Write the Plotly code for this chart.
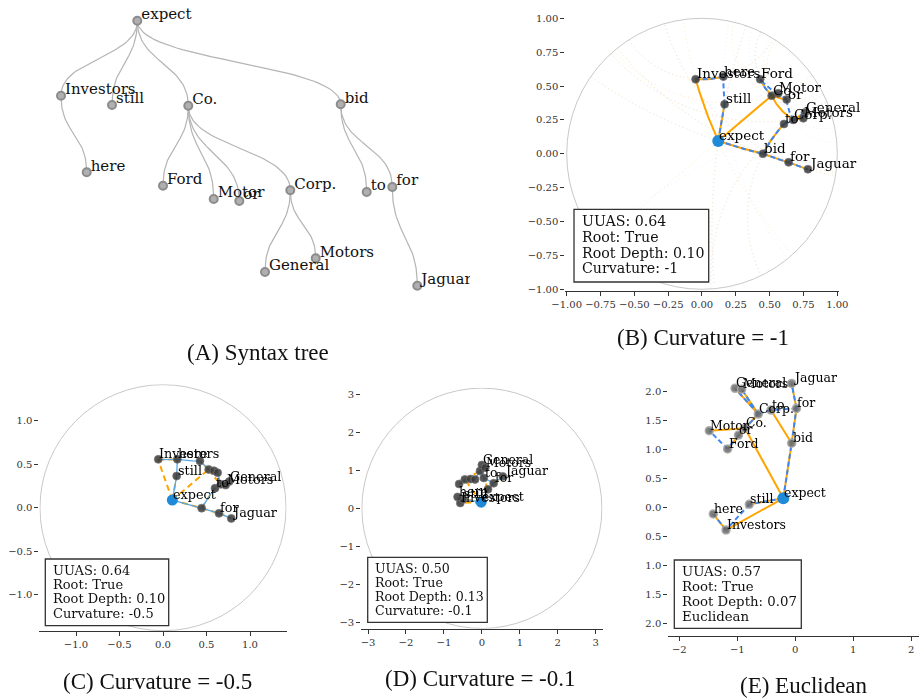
import numpy as np
import plotly.graph_objects as go

W, H = 920, 698

# ---------------- data ----------------
WORDS = ["expect", "Investors", "still", "here", "Co.", "Ford", "Motor", "or",
         "Corp.", "General", "Motors", "bid", "to", "for", "Jaguar"]

# (A) syntax-tree layout positions (layout units, y downward)
A_X = [137.3, 61.0, 112.0, 86.7, 188.3, 163.0, 213.7, 239.3, 290.3, 265.0, 315.7, 340.7, 366.7, 392.3, 417.3]
A_Y = [20.7, 95.7, 105.0, 172.3, 105.7, 185.7, 199.0, 201.0, 190.3, 272.0, 258.3, 104.3, 192.0, 187.0, 285.7]

# (B) curvature -1 embedding
B_X = [0.120, -0.047, 0.167, 0.158, 0.515, 0.430, 0.564, 0.626, 0.675, 0.761, 0.749, 0.450, 0.606, 0.640, 0.783]
B_Y = [0.095, 0.550, 0.365, 0.570, 0.429, 0.550, 0.446, 0.400, 0.250, 0.304, 0.262, 0.000, 0.220, -0.063, -0.114]

# (C) curvature -0.5 embedding
C_X = [0.107, -0.054, 0.157, 0.165, 0.525, 0.425, 0.586, 0.628, 0.665, 0.760, 0.720, 0.444, 0.598, 0.644, 0.785]
C_Y = [0.088, 0.556, 0.364, 0.556, 0.440, 0.536, 0.425, 0.402, 0.270, 0.300, 0.260, -0.005, 0.224, -0.065, -0.123]

# (D) curvature -0.1 embedding
D_X = [-0.02, -0.57, -0.50, -0.64, -0.45, -0.60, -0.30, -0.18, -0.05, 0.00, 0.09, 0.16, 0.05, 0.31, 0.55]
D_Y = [0.16, 0.14, 0.24, 0.30, 0.76, 0.64, 0.77, 0.76, 0.98, 1.14, 1.07, 0.50, 0.80, 0.66, 0.84]

# (E) Euclidean embedding
E_X = [-0.207, -1.195, -0.793, -1.414, -0.868, -1.167, -1.483, -0.980, -0.638, -1.040, -0.925, -0.063, -0.420, 0.020, -0.063]
E_Y = [0.150, -0.397, 0.046, -0.120, 1.356, 1.000, 1.316, 1.240, 1.603, 2.046, 2.030, 1.100, 1.672, 1.700, 2.130]

GOLD = [("expect", "Investors"), ("expect", "still"), ("expect", "Co."), ("expect", "bid"),
        ("Investors", "here"), ("Co.", "Ford"), ("Co.", "Motor"), ("Co.", "or"), ("Co.", "Corp."),
        ("Corp.", "General"), ("Corp.", "Motors"), ("bid", "to"), ("bid", "for"), ("for", "Jaguar")]

PRED_B = [("expect", "still"), ("still", "here"), ("here", "Investors"), ("expect", "bid"),
          ("bid", "for"), ("for", "Jaguar"), ("bid", "to"), ("to", "Corp."), ("Corp.", "Motors"),
          ("Corp.", "General"), ("Corp.", "or"), ("or", "Motor"), ("Motor", "Ford"), ("Ford", "Co.")]
PRED_C = [("expect", "still"), ("still", "here"), ("here", "Investors"), ("here", "Ford"),
          ("Ford", "Co."), ("Co.", "Motor"), ("Motor", "or"), ("or", "Corp."), ("Corp.", "Motors"),
          ("Motors", "General"), ("expect", "bid"), ("bid", "to"), ("bid", "for"), ("for", "Jaguar")]
PRED_D = [("expect", "still"), ("still", "Investors"), ("Investors", "here"), ("expect", "bid"),
          ("bid", "for"), ("for", "Jaguar"), ("for", "to"), ("to", "Corp."), ("Corp.", "Motors"),
          ("Motors", "General"), ("Corp.", "or"), ("or", "Motor"), ("Motor", "Ford"), ("Ford", "Co.")]
PRED_E = [("expect", "still"), ("still", "Investors"), ("Investors", "here"), ("expect", "bid"),
          ("bid", "for"), ("for", "Jaguar"), ("for", "to"), ("to", "Corp."), ("Corp.", "General"),
          ("Corp.", "Motors"), ("Corp.", "Co."), ("Co.", "or"), ("or", "Ford"), ("Ford", "Motor")]

LABELS_C = ["Investors", "here", "still", "expect", "to", "General", "Motors", "for", "Jaguar"]
LABELS_D = ["General", "Motors", "Jaguar", "to", "for", "here", "still", "Investors", "expect"]

CURV_B, CURV_C, CURV_D = -1.0, -0.5, -0.1

INFO_B = ["UUAS: 0.64", "Root: True", "Root Depth: 0.10", "Curvature: -1"]
INFO_C = ["UUAS: 0.64", "Root: True", "Root Depth: 0.10", "Curvature: -0.5"]
INFO_D = ["UUAS: 0.50", "Root: True", "Root Depth: 0.13", "Curvature: -0.1"]
INFO_E = ["UUAS: 0.57", "Root: True", "Root Depth: 0.07", "Euclidean"]

TITLES = ["(A) Syntax tree", "(B) Curvature = -1", "(C) Curvature = -0.5",
          "(D) Curvature = -0.1", "(E) Euclidean"]

ROOT = "expect"

# ---------------- helpers ----------------
ORANGE = "#FFA500"
BLUE_D = "#3F86F0"
BLUE_S = "#55A8E8"
SERIF = "DejaVu Serif"
TITLE_FONT = "Liberation Serif"


def circumcenter(a, b, c):
    ax, ay, bx, by, cx, cy = a.real, a.imag, b.real, b.imag, c.real, c.imag
    d = 2 * (ax * (by - cy) + bx * (cy - ay) + cx * (ay - by))
    ux = ((ax**2 + ay**2) * (by - cy) + (bx**2 + by**2) * (cy - ay) + (cx**2 + cy**2) * (ay - by)) / d
    uy = ((ax**2 + ay**2) * (cx - bx) + (bx**2 + by**2) * (ax - cx) + (cx**2 + cy**2) * (bx - ax)) / d
    return complex(ux, uy)


def geo_circle(p, q, R):
    cross = p.real * q.imag - p.imag * q.real
    if abs(cross) < 1e-6:
        return None
    base = p if abs(p) > abs(q) else q
    inv = R**2 / base.conjugate()
    c = circumcenter(p, q, inv)
    return c, abs(p - c)


def geodesic(p, q, R, n=40):
    p, q = complex(*p), complex(*q)
    gc = geo_circle(p, q, R)
    if gc is None:
        t = np.linspace(0, 1, 2)
        z = p + (q - p) * t
        return z.real, z.imag
    c, r = gc
    a1, a2 = np.angle(p - c), np.angle(q - c)
    d = (a2 - a1 + np.pi) % (2 * np.pi) - np.pi
    best = None
    for dd in (d, d - np.sign(d) * 2 * np.pi):
        th = a1 + np.linspace(0, dd, n)
        z = c + r * np.exp(1j * th)
        m = abs(z[n // 2])
        if best is None or m < best[0]:
            best = (m, z)
    z = best[1]
    return z.real, z.imag


def full_geodesic(p, q, R):
    p, q = complex(*p), complex(*q)
    gc = geo_circle(p, q, R)
    if gc is None:
        u = (q - p) / abs(q - p)
        z = np.array([-R * u, R * u])
        return z.real, z.imag
    c, r = gc
    th = np.linspace(0, 2 * np.pi, 721)
    z = c + r * np.exp(1j * th)
    inside = np.abs(z) < R
    k = int(np.argmin(inside))
    z = np.roll(z, -k)
    inside = np.roll(inside, -k)
    z = z[inside]
    return z.real, z.imag


def edge_xy(pos, edges, R=None, full=False):
    xs, ys = [], []
    for a, b in edges:
        p, q = pos[a], pos[b]
        if R is None:
            ex, ey = [p[0], q[0]], [p[1], q[1]]
        elif full:
            ex, ey = full_geodesic(p, q, R)
        else:
            ex, ey = geodesic(p, q, R)
        xs += list(ex) + [None]
        ys += list(ey) + [None]
    return xs, ys


def dom(cx, cy, sx, sy, xr, yr):
    x0, x1 = cx + xr[0] * sx, cx + xr[1] * sx
    ytop, ybot = cy - yr[1] * sy, cy - yr[0] * sy
    return [x0 / W, x1 / W], [1 - ybot / H, 1 - ytop / H]


fig = go.Figure()
annotations = []
shapes = []

# ---------------- (A) syntax tree ----------------
posA = {w: (x, y) for w, x, y in zip(WORDS, A_X, A_Y)}
lx, ly = [], []
for a, b in GOLD:
    (sx_, sy_), (tx_, ty_) = posA[a], posA[b]
    ym = (sy_ + ty_) / 2
    t = np.linspace(0, 1, 40)
    P = np.array([[sx_, sy_], [sx_, ym], [tx_, ym], [tx_, ty_]])
    bx = ((1 - t)**3) * P[0, 0] + 3 * ((1 - t)**2) * t * P[1, 0] + 3 * (1 - t) * t**2 * P[2, 0] + t**3 * P[3, 0]
    by = ((1 - t)**3) * P[0, 1] + 3 * ((1 - t)**2) * t * P[1, 1] + 3 * (1 - t) * t**2 * P[2, 1] + t**3 * P[3, 1]
    lx += list(bx) + [None]
    ly += list(by) + [None]
fig.add_trace(go.Scatter(x=lx, y=ly, mode="lines", line=dict(color="#b4b4b4", width=1.2),
                         xaxis="x", yaxis="y", hoverinfo="skip"))
fig.add_trace(go.Scatter(x=A_X, y=A_Y, mode="markers",
                         marker=dict(size=8, color="#b0b0b0", line=dict(color="#8c8c8c", width=2)),
                         xaxis="x", yaxis="y", cliponaxis=False, hoverinfo="skip"))
fig.add_trace(go.Scatter(x=[x + 4 for x in A_X], y=[y - 5.5 for y in A_Y], mode="text", text=WORDS,
                         textposition="middle right", textfont=dict(family=SERIF, size=15, color="#111"),
                         xaxis="x", yaxis="y", cliponaxis=True, hoverinfo="skip"))

# ---------------- embeddings ----------------
panels = [
    dict(n=2, X=B_X, Y=B_Y, pred=PRED_B, R=1 / np.sqrt(-CURV_B), style="B", labels=WORDS,
         fs=13.5, root_size=12),
    dict(n=3, X=C_X, Y=C_Y, pred=PRED_C, R=1 / np.sqrt(-CURV_C), style="C", labels=LABELS_C,
         fs=12.8, root_size=11),
    dict(n=4, X=D_X, Y=D_Y, pred=PRED_D, R=1 / np.sqrt(-CURV_D), style="C", labels=LABELS_D,
         fs=12.5, root_size=11),
    dict(n=5, X=E_X, Y=E_Y, pred=PRED_E, R=None, style="B", labels=WORDS,
         fs=12.5, root_size=12),
]

for pn in panels:
    xa, ya = f"x{pn['n']}", f"y{pn['n']}"
    pos = {w: (x, y) for w, x, y in zip(WORDS, pn["X"], pn["Y"])}
    R = pn["R"]
    if pn["n"] == 2:
        gx, gy = edge_xy(pos, GOLD, R, full=True)
        fig.add_trace(go.Scatter(x=gx, y=gy, mode="lines", opacity=0.22,
                                 line=dict(color=ORANGE, width=1, dash="1px,3px"),
                                 xaxis=xa, yaxis=ya, hoverinfo="skip"))
        gx, gy = edge_xy(pos, pn["pred"], R, full=True)
        fig.add_trace(go.Scatter(x=gx, y=gy, mode="lines", opacity=0.12,
                                 line=dict(color=BLUE_D, width=1, dash="1px,3px"),
                                 xaxis=xa, yaxis=ya, hoverinfo="skip"))
    gx, gy = edge_xy(pos, GOLD, R)
    px_, py_ = edge_xy(pos, pn["pred"], R)
    if pn["style"] == "B":
        fig.add_trace(go.Scatter(x=gx, y=gy, mode="lines", line=dict(color=ORANGE, width=2),
                                 xaxis=xa, yaxis=ya, hoverinfo="skip"))
        fig.add_trace(go.Scatter(x=px_, y=py_, mode="lines",
                                 line=dict(color=BLUE_D, width=2, dash="5px,3px"),
                                 xaxis=xa, yaxis=ya, hoverinfo="skip"))
    else:
        fig.add_trace(go.Scatter(x=gx, y=gy, mode="lines",
                                 line=dict(color=ORANGE, width=2, dash="6px,4px"),
                                 xaxis=xa, yaxis=ya, hoverinfo="skip"))
        fig.add_trace(go.Scatter(x=px_, y=py_, mode="lines", line=dict(color=BLUE_S, width=1.3),
                                 xaxis=xa, yaxis=ya, hoverinfo="skip"))
    nx = [pos[w][0] for w in WORDS if w != ROOT]
    ny = [pos[w][1] for w in WORDS if w != ROOT]
    if pn["n"] == 5:
        mk = dict(size=8, color="rgba(105,105,105,0.85)", line=dict(color="rgba(170,170,170,0.9)", width=1.5))
    else:
        mk = dict(size=8, color="rgba(55,55,55,0.85)", line=dict(color="rgba(120,120,120,0.7)", width=1))
    fig.add_trace(go.Scatter(x=nx, y=ny, mode="markers", marker=mk, xaxis=xa, yaxis=ya,
                             cliponaxis=False, hoverinfo="skip"))
    fig.add_trace(go.Scatter(x=[pos[ROOT][0]], y=[pos[ROOT][1]], mode="markers",
                             marker=dict(size=pn["root_size"], color="#1E8AD8"),
                             xaxis=xa, yaxis=ya, cliponaxis=False, hoverinfo="skip"))
    for w in pn["labels"]:
        annotations.append(dict(x=pos[w][0], y=pos[w][1], xref=xa, yref=ya, text=w, showarrow=False,
                                xanchor="left", yanchor="bottom", yshift=-4, xshift=-1,
                                font=dict(family=SERIF, size=pn["fs"], color="#000")))
    if R is not None:
        shapes.append(dict(type="circle", xref=xa, yref=ya, x0=-R, y0=-R, x1=R, y1=R,
                           line=dict(color="#c8c8c8", width=1), layer="below"))

# ---------------- layout ----------------
axis_common = dict(showgrid=False, zeroline=False, ticks="outside", ticklen=4, tickwidth=1, tickangle=0,
                   automargin=False, tickcolor="#333", tickfont=dict(family=SERIF, size=10, color="#333"))

layout = dict(width=W, height=H, margin=dict(l=0, r=0, t=0, b=0, pad=0, autoexpand=False),
              paper_bgcolor="white", plot_bgcolor="rgba(0,0,0,0)", showlegend=False)

# A
layout["xaxis"] = dict(domain=[0, 470 / W], range=[0, 470], visible=False, anchor="y", automargin=False)
layout["yaxis"] = dict(domain=[1 - 300 / H, 1], range=[300, 0], visible=False, anchor="x", automargin=False)

specs = {
    2: dict(c=(702, 153.8), s=(135.3, 135.5), xr=[-1.01, 1.01], yr=[-1.01, 1.01],
            xt=list(np.round(np.arange(-1, 1.001, 0.25), 2)), yt=list(np.round(np.arange(-1, 1.001, 0.25), 2)),
            fmt=".2f"),
    3: dict(c=(163, 507.7), s=(87, 87), xr=[-1.42, 1.42], yr=[-1.42, 1.42],
            xt=[-1, -0.5, 0, 0.5, 1], yt=[-1, -0.5, 0, 0.5, 1], fmt=".1f"),
    4: dict(c=(481.9, 508.3), s=(37.95, 38), xr=[-3.18, 3.18], yr=[-3.17, 3.17],
            xt=[-3, -2, -1, 0, 1, 2, 3], yt=[-3, -2, -1, 0, 1, 2, 3], fmt="d"),
    5: dict(c=(795.3, 507), s=(58, 58), xr=[-2.19, 2.14], yr=[-2.22, 2.22],
            xt=[-2, -1, 0, 1, 2], yt=list(np.round(np.arange(-2, 2.001, 0.5), 1)), fmt="d"),
}
for n, sp in specs.items():
    xd, yd = dom(sp["c"][0], sp["c"][1], sp["s"][0], sp["s"][1], sp["xr"], sp["yr"])
    xa = dict(axis_common, domain=xd, range=sp["xr"], anchor=f"y{n}", tickvals=sp["xt"],
              tickformat=sp["fmt"], showline=True, linecolor="#333", linewidth=1)
    ya = dict(axis_common, domain=yd, range=sp["yr"], anchor=f"x{n}", tickvals=sp["yt"],
              showline=False)
    if n == 5:
        ya["ticktext"] = [f"{abs(v):.1f}" for v in sp["yt"]]
    else:
        ya["tickformat"] = sp["fmt"]
    layout[f"xaxis{n}"] = xa
    layout[f"yaxis{n}"] = ya

# info boxes: (left, top, right, bottom) in pixels, font size, line spacing, first-line offset
box_geo = [((574, 209.3, 708.7, 282), 14.2, 15.7, 12.0),
           ((45.3, 559, 168.7, 625.7), 13.0, 14.4, 11.0),
           ((367.7, 557.3, 487.3, 622.3), 12.6, 13.9, 11.0),
           ((674.3, 560, 801.3, 628.3), 13.3, 15.0, 11.2)]
for info, (rect, fs, sp_, off) in zip([INFO_B, INFO_C, INFO_D, INFO_E], box_geo):
    L, T, Rr, B = rect
    shapes.append(dict(type="rect", xref="paper", yref="paper", x0=L / W, x1=Rr / W,
                       y0=1 - B / H, y1=1 - T / H, line=dict(color="#333", width=1.3),
                       fillcolor="white", layer="above"))
    for i, line in enumerate(info):
        cy = T + off + i * sp_
        annotations.append(dict(x=(L + 5.5) / W, y=1 - cy / H, xref="paper", yref="paper",
                                xanchor="left", yanchor="middle", showarrow=False, text=line,
                                font=dict(family=SERIF, size=fs, color="#111")))

# titles
for t, (cx, cy) in zip(TITLES, [(258, 352), (703, 338), (157, 681), (480, 678), (804, 685)]):
    annotations.append(dict(x=cx / W, y=1 - cy / H, xref="paper", yref="paper", xanchor="center",
                            yanchor="middle", showarrow=False, text=t,
                            font=dict(family=TITLE_FONT, size=23, color="#111")))

layout["annotations"] = annotations
layout["shapes"] = shapes
fig.update_layout(**layout)
fig.write_html("out.html", config={"displayModeBar": False},
               post_script="document.body.style.margin='0';document.body.style.overflow='hidden';")
